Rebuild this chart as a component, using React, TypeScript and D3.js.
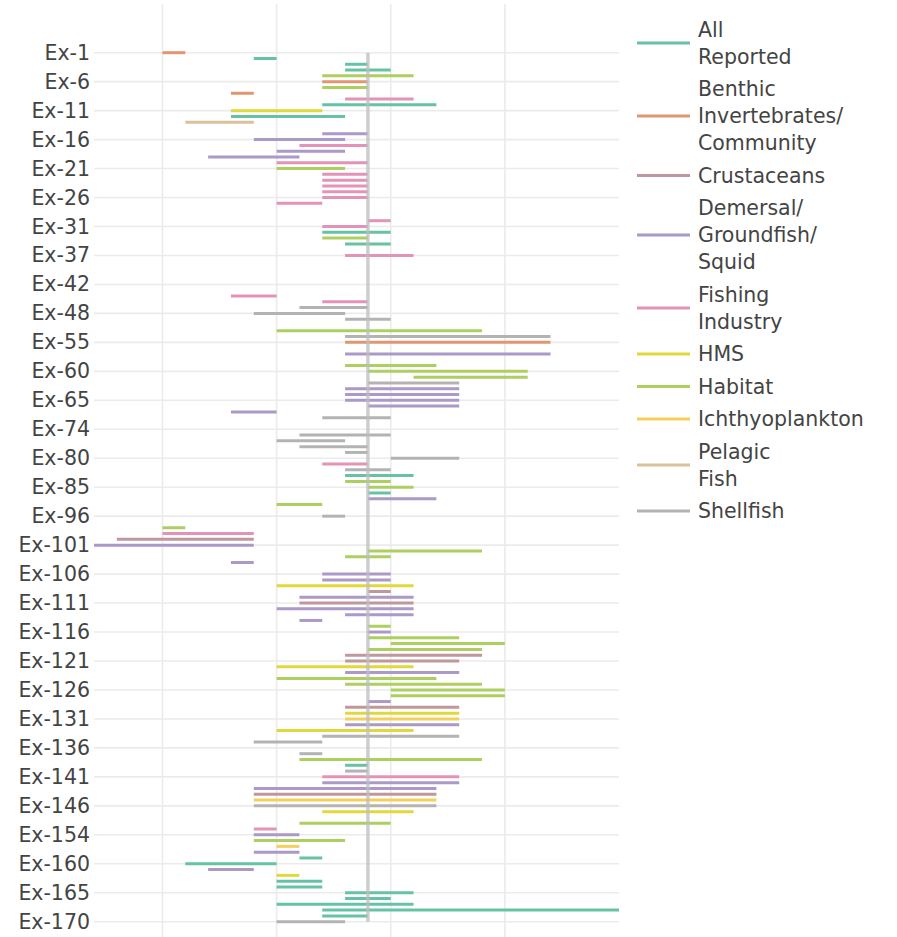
import * as d3 from "d3";

const W = 897;
const H = 937;

// category ids in plotting order (top to bottom)
const categoryIds = [
  1, 2, 3, 4, 5, 6, 7, 8, 9, 10, 11, 12, 13, 14, 15, 16, 17, 18, 19, 20,
  21, 22, 23, 24, 25, 26, 27, 28, 29, 30, 31, 32, 33, 34, 36, 37, 38, 39, 40, 41,
  42, 43, 44, 45, 47, 48, 49, 50, 52, 54, 55, 56, 57, 58, 59, 60, 61, 62, 63, 64,
  65, 66, 68, 70, 72, 74, 75, 76, 78, 79, 80, 81, 82, 83, 84, 85, 87, 89, 91, 94,
  96, 97, 98, 99, 100, 101, 102, 103, 104, 105, 106, 107, 108, 109, 110, 111, 112, 113, 114, 115,
  116, 117, 118, 119, 120, 121, 122, 123, 124, 125, 126, 127, 128, 129, 130, 131, 132, 133, 134, 135,
  136, 137, 138, 139, 140, 141, 142, 143, 144, 145, 146, 147, 149, 151, 152, 154, 155, 156, 157, 159,
  160, 161, 162, 163, 164, 165, 166, 167, 168, 169, 170,
];
const categories = categoryIds.map((n) => `Ex-${n}`);

const groups = [
  "All Reported",
  "Benthic Invertebrates/ Community",
  "Crustaceans",
  "Demersal/ Groundfish/ Squid",
  "Fishing Industry",
  "HMS",
  "Habitat",
  "Ichthyoplankton",
  "Pelagic Fish",
  "Shellfish",
];
// legend text broken the same way as the reference
const legendLines = [
  ["All", "Reported"],
  ["Benthic", "Invertebrates/", "Community"],
  ["Crustaceans"],
  ["Demersal/", "Groundfish/", "Squid"],
  ["Fishing", "Industry"],
  ["HMS"],
  ["Habitat"],
  ["Ichthyoplankton"],
  ["Pelagic", "Fish"],
  ["Shellfish"],
];
const colors = [
  "#66c2a5", "#e29670", "#c0979c", "#ab99c8", "#e393b8",
  "#e1d93b", "#adcf60", "#f3d05c", "#dac09b", "#b3b3b3",
];

// [category id, group index, start, end]
const spans: [number, number, number, number][] = [
  [1, 1, 1990, 1991], [2, 0, 1994, 1995], [3, 0, 1998, 1999], [4, 0, 1998, 2000],
  [5, 6, 1997, 2001], [6, 1, 1997, 1999], [7, 6, 1997, 1999], [8, 1, 1993, 1994],
  [9, 4, 1998, 2001], [10, 0, 1997, 2002], [11, 5, 1993, 1997], [12, 0, 1993, 1998],
  [13, 8, 1991, 1994], [15, 3, 1997, 1999], [16, 3, 1994, 1998], [17, 4, 1996, 1999],
  [18, 3, 1995, 1998], [19, 3, 1992, 1996], [20, 4, 1995, 1999], [21, 6, 1995, 1998],
  [22, 4, 1997, 1999], [23, 4, 1997, 1999], [24, 4, 1997, 1999], [25, 4, 1997, 1999],
  [26, 4, 1997, 1999], [27, 4, 1995, 1997], [30, 4, 1999, 2000], [31, 4, 1997, 1999],
  [32, 0, 1997, 2000], [33, 6, 1997, 1999], [34, 0, 1998, 2000], [37, 4, 1998, 2001],
  [44, 4, 1993, 1995], [45, 4, 1997, 1999], [47, 9, 1996, 1999], [48, 9, 1994, 1998],
  [49, 9, 1998, 2000], [52, 6, 1995, 2004], [54, 9, 1998, 2007], [55, 1, 1998, 2007],
  [57, 3, 1998, 2007], [59, 6, 1998, 2002], [60, 6, 1999, 2006], [61, 6, 2001, 2006],
  [62, 9, 1999, 2003], [63, 3, 1998, 2003], [64, 3, 1998, 2003], [65, 3, 1998, 2003],
  [66, 3, 1999, 2003], [68, 3, 1993, 1995], [70, 9, 1997, 2000], [75, 9, 1996, 2000],
  [76, 9, 1995, 1998], [78, 9, 1996, 1999], [79, 9, 1998, 1999], [80, 9, 2000, 2003],
  [81, 4, 1997, 1999], [82, 9, 1998, 2000], [83, 0, 1998, 2001], [84, 6, 1998, 2000],
  [85, 6, 1999, 2001], [87, 0, 1999, 2000], [89, 3, 1999, 2002], [91, 6, 1995, 1997],
  [96, 9, 1997, 1998], [98, 6, 1990, 1991], [99, 4, 1990, 1994], [100, 2, 1988, 1994],
  [101, 3, 1987, 1994], [102, 6, 1999, 2004], [103, 6, 1998, 2000], [104, 3, 1993, 1994],
  [106, 3, 1997, 2000], [107, 3, 1997, 2000], [108, 5, 1995, 2001], [109, 2, 1999, 2000],
  [110, 3, 1996, 2001], [111, 2, 1996, 2001], [112, 3, 1995, 2001], [113, 3, 1998, 2001],
  [114, 3, 1996, 1997], [115, 6, 1999, 2000], [116, 3, 1999, 2000], [117, 6, 1999, 2003],
  [118, 6, 2000, 2005], [119, 6, 1999, 2004], [120, 2, 1998, 2004], [121, 2, 1998, 2003],
  [122, 5, 1995, 2001], [123, 3, 1998, 2003], [124, 6, 1995, 2002], [125, 6, 1998, 2004],
  [126, 6, 2000, 2005], [127, 6, 2000, 2005], [128, 3, 1999, 2000], [129, 2, 1998, 2003],
  [130, 5, 1998, 2003], [131, 7, 1998, 2003], [132, 3, 1998, 2003], [133, 5, 1995, 2001],
  [134, 9, 1997, 2003], [135, 9, 1994, 1997], [137, 9, 1996, 1997], [138, 6, 1996, 2004],
  [139, 0, 1998, 1999], [140, 9, 1998, 1999], [141, 4, 1997, 2003], [142, 3, 1997, 2003],
  [143, 3, 1994, 2002], [144, 2, 1994, 2002], [145, 7, 1994, 2002], [146, 9, 1994, 2002],
  [147, 5, 1997, 2001], [151, 6, 1996, 2000], [152, 4, 1994, 1995], [154, 3, 1994, 1996],
  [155, 6, 1994, 1998], [156, 7, 1995, 1996], [157, 3, 1994, 1996], [159, 0, 1996, 1997],
  [160, 0, 1991, 1995], [161, 3, 1992, 1994], [162, 5, 1995, 1996], [163, 0, 1995, 1997],
  [164, 0, 1995, 1997], [165, 0, 1998, 2001], [166, 0, 1998, 2000], [167, 0, 1995, 2001],
  [168, 0, 1997, 2010], [169, 0, 1997, 1999], [170, 9, 1995, 1998],
];

// the right edge of the plot sits on 2010, which has no gridline drawn
const xTicks = [1990, 1995, 2000, 2005];
const refYear = 1999;

const FONT = "DejaVu Sans, Verdana, sans-serif";
const FS = 20.5;

export default function App() {
  const plot = { left: 94, right: 619, top: 4, bottom: 945 };
  const x = d3.scaleLinear().domain([1987, 2010]).range([plot.left, plot.right]);
  const y = d3.scalePoint<string>().domain(categories).range([52.7, 921.7]);
  const tickCats = categories.filter((_, i) => i % 5 === 0);

  // legend layout
  const itemH = 32.5;
  const lineH = 27;
  let cursor = 13.25;
  const legend = legendLines.map((lines, i) => {
    const h = itemH + lineH * (lines.length - 1);
    const cy = cursor + h / 2;
    cursor += h;
    return { lines, cy, color: colors[i], name: groups[i] };
  });

  return (
    <svg
      width={W}
      height={H}
      style={{ position: "absolute", left: 0, top: 0, background: "#fff" }}
      fontFamily={FONT}
    >
      <g>
        {xTicks.map((t) => (
          <line key={t} x1={x(t)} x2={x(t)} y1={plot.top} y2={plot.bottom} stroke="#ebebeb" strokeWidth={1.6} />
        ))}
        {tickCats.map((c) => (
          <line key={c} x1={plot.left} x2={plot.right} y1={y(c)} y2={y(c)} stroke="#ebebeb" strokeWidth={1.6} />
        ))}
      </g>
      <g>
        {spans.map(([id, g, s, e], i) => {
          const yy = y(`Ex-${id}`)!;
          return (
            <line key={i} x1={x(s)} x2={x(e)} y1={yy} y2={yy} stroke={colors[g]} strokeWidth={3} />
          );
        })}
      </g>
      <line
        x1={x(refYear)}
        x2={x(refYear)}
        y1={y(categories[0])}
        y2={y(categories[categories.length - 1])}
        stroke="#bdbdbd"
        strokeOpacity={0.75}
        strokeWidth={3.5}
      />
      <g fill="#444" fontSize={FS} textAnchor="end">
        {tickCats.map((c) => (
          <text key={c} x={90} y={y(c)} dominantBaseline="central">
            {c}
          </text>
        ))}
      </g>
      <g fontSize={FS} fill="#444">
        {legend.map((it) => (
          <g key={it.name}>
            <line x1={637} x2={690} y1={it.cy} y2={it.cy} stroke={it.color} strokeWidth={3} />
            {it.lines.map((ln, j) => (
              <text
                key={j}
                x={698}
                y={it.cy + (j - (it.lines.length - 1) / 2) * lineH}
                dominantBaseline="central"
              >
                {ln}
              </text>
            ))}
          </g>
        ))}
      </g>
    </svg>
  );
}
